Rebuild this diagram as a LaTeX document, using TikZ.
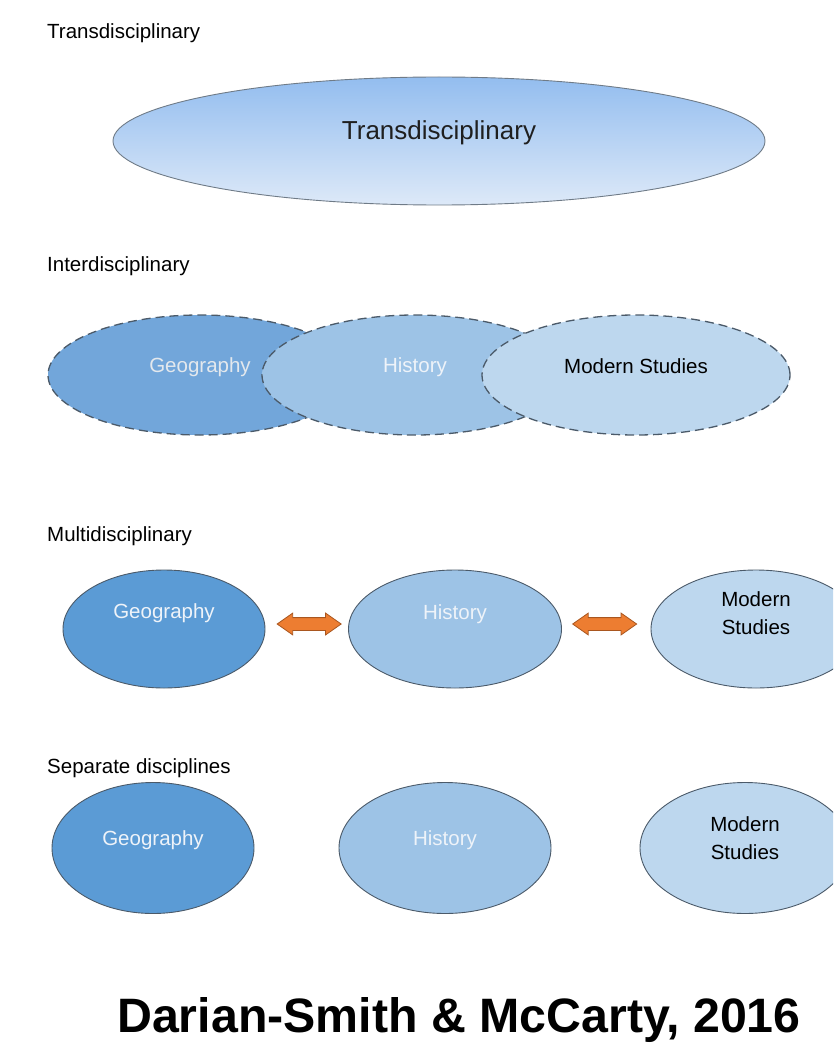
\documentclass[tikz,border=0pt]{standalone}
\usepackage{fontspec}
\setmainfont{Liberation Sans}
\usetikzlibrary{positioning,shapes.geometric,shapes.arrows}

\definecolor{geoblue}{HTML}{5B9BD5}
\definecolor{interblue}{HTML}{72A6DA}
\definecolor{hisblue}{HTML}{9DC3E6}
\definecolor{modblue}{HTML}{BDD7EE}
\definecolor{rimgray}{HTML}{4B5A69}
\definecolor{arroworange}{HTML}{ED7D31}
\definecolor{arrowrim}{HTML}{A9561F}
\definecolor{transtop}{HTML}{93BDEF}
\definecolor{transbot}{HTML}{DDE9F8}
\definecolor{paletext}{HTML}{EEF3F9}

\begin{document}
\begin{tikzpicture}[
            x=1pt, y=-1pt,
            every label/.style={inner sep=0pt, align=center, font=\fontsize{20.5}{28}\selectfont},
            disc/.style={ellipse, draw=rimgray, line width=0.9pt, inner sep=0pt},
            dashdisc/.style={disc, dash pattern=on 9pt off 5pt, line width=1.3pt},
            rowlabel/.style={anchor=base west, inner sep=0pt, font=\fontsize{20.5}{24}\selectfont},
            pale/.style={text=paletext},
            twoway/.style={double arrow, draw=arrowrim, fill=arroworange, line width=0.8pt,
                minimum height=64pt, inner xsep=0pt, inner ysep=6pt,
                double arrow head extend=4.5pt, double arrow tip angle=70}
        ]
        \useasboundingbox (0,0) rectangle (833,1043);
        \clip (0,0) rectangle (833,1043);

        % top row
        \node[rowlabel] (ttrans) at (47,39) {Transdisciplinary};
        \node[disc, draw=rimgray!80, top color=transtop, bottom color=transbot,
              minimum width=652pt, minimum height=128pt,
              label={[yshift=8pt, font=\fontsize{26}{30}\selectfont, text=black!88]center:Transdisciplinary}] (trans) at (439,141) {};

        % overlapping, dashed
        \node[rowlabel] (tinter) at (47,271) {Interdisciplinary};
        \node[dashdisc, fill=interblue, minimum width=304pt, minimum height=120pt,
              label={[pale, text=paletext!90!gray, yshift=8pt]center:Geography}] (igeo) at (200,375) {};
        \node[dashdisc, fill=hisblue, minimum width=306pt, minimum height=120pt,
              label={[pale, yshift=8pt]center:History}] (ihis) at (415,375) {};
        \node[dashdisc, fill=modblue, minimum width=308pt, minimum height=120pt,
              label={[yshift=9pt]center:Modern Studies}] (imod) at (636,375) {};

        % linked by arrows
        \node[rowlabel] (tmulti) at (47,541) {Multidisciplinary};
        \node[disc, fill=geoblue, minimum width=202pt, minimum height=118pt,
              label={[pale, yshift=16pt]center:Geography}] (mgeo) at (164,629) {};
        \node[disc, fill=hisblue, minimum width=213pt, minimum height=118pt,
              label={[pale, yshift=15pt]center:History}] (mhis) at (455,629) {};
        \node[disc, fill=modblue, minimum width=210pt, minimum height=118pt,
              label={[yshift=16pt]center:Modern\\Studies}] (mmod) at (756,629) {};
        \node[twoway, right=11pt of mgeo, yshift=5pt] (link1) {};
        \node[twoway, right=10pt of mhis, yshift=5pt] (link2) {};

        % apart
        \node[rowlabel] (tsep) at (47,773) {Separate disciplines};
        \node[disc, fill=geoblue, minimum width=202pt, minimum height=131pt,
              label={[pale, yshift=8pt]center:Geography}] (sgeo) at (153,848) {};
        \node[disc, fill=hisblue, minimum width=212pt, minimum height=131pt,
              label={[pale, yshift=8pt]center:History}] (shis) at (445,848) {};
        \node[disc, fill=modblue, minimum width=210pt, minimum height=131pt,
              label={[yshift=10pt]center:Modern\\Studies}] (smod) at (745,848) {};

        \node[anchor=base, inner sep=0pt, font=\bfseries\fontsize{48.3}{50}\selectfont] (cite) at (459,1032) {Darian-Smith \& McCarty, 2016};
        \end{tikzpicture}
\end{document}
